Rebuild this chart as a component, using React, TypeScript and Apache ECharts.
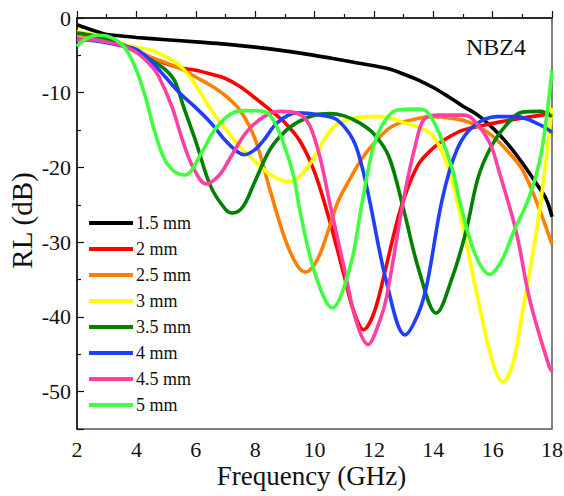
import React, { useEffect, useRef } from "react";
import * as echarts from "echarts";

const seriesNames = ["1.5 mm", "2 mm", "2.5 mm", "3 mm", "3.5 mm", "4 mm", "4.5 mm", "5 mm"];
const seriesColors = ["#000000", "#ff0000", "#ff8000", "#ffff00", "#008000", "#1f3fff", "#ff40a0", "#40ff40"];

const xTickLabels = [2, 4, 6, 8, 10, 12, 14, 16, 18];
const yTickLabels = [0, -10, -20, -30, -40, -50];

const rl15 = [[2,-0.9],[2.5,-1.6],[3,-2.2],[3.5,-2.4],[4,-2.6],[5,-2.9],[6,-3.2],[7,-3.5],[8,-3.9],[9,-4.4],[10,-5.0],[11,-5.7],[12,-6.4],[12.5,-6.8],[13,-7.5],[13.5,-8.3],[14,-9.3],[14.5,-10.5],[15,-11.8],[15.5,-13.0],[16,-14.7],[16.5,-16.8],[17,-19.4],[17.5,-22.3],[17.8,-24.2],[18,-26.6]];
const rl20 = [[2,-2.3],[2.5,-2.4],[3,-3.0],[3.5,-3.6],[4,-4.4],[4.5,-5.3],[5,-6.1],[5.5,-6.7],[6,-7.0],[6.5,-7.5],[7,-8.1],[7.5,-9.2],[8,-10.7],[8.5,-12.3],[9,-14.0],[9.5,-16.4],[10,-20.6],[10.5,-27.0],[11,-34.5],[11.3,-39.0],[11.65,-41.7],[12,-39.5],[12.4,-33.5],[12.7,-28.5],[13,-24.3],[13.5,-19.6],[14,-17.4],[14.5,-16.0],[15,-15.0],[16,-14.1],[17,-13.4],[18,-12.8]];
const rl25 = [[2,-2.4],[2.5,-2.4],[3,-3.0],[3.5,-3.6],[4,-4.4],[4.5,-5.3],[5,-6.0],[5.5,-6.8],[6,-7.9],[6.5,-9.0],[7,-10.4],[7.5,-12.4],[8,-16.2],[8.5,-23.0],[9,-29.5],[9.4,-33.0],[9.7,-34.0],[10.1,-32.3],[10.5,-28.0],[10.8,-24.5],[11.2,-21.5],[11.6,-18.8],[12,-16.8],[12.5,-14.8],[13,-13.9],[14,-13.2],[15,-13.7],[15.5,-14.5],[16,-15.8],[16.5,-17.8],[17,-20.3],[17.5,-24.8],[18,-30.3]];
const rl30 = [[2,-1.8],[2.5,-2.2],[3,-2.8],[3.5,-3.4],[4,-3.9],[4.5,-4.3],[5,-5.2],[5.5,-6.5],[6,-9.0],[6.5,-12.2],[7,-14.8],[7.5,-17.3],[8,-19.2],[8.5,-20.9],[9.1,-21.9],[9.5,-21.2],[10,-18.6],[10.4,-15.8],[10.8,-14.1],[11.5,-13.3],[12,-13.2],[12.5,-13.3],[13,-14.0],[13.5,-14.6],[14,-15.8],[14.5,-20.0],[15,-28.0],[15.5,-37.5],[16,-46.0],[16.35,-48.7],[16.7,-46.0],[17,-39.5],[17.5,-28.0],[17.8,-19.0],[18,-12.0]];
const rl35 = [[2,-2.0],[2.5,-2.3],[3,-2.8],[3.5,-3.5],[4,-4.5],[4.5,-5.6],[5,-7.0],[5.3,-8.5],[5.6,-12.0],[6,-16.5],[6.5,-22.5],[7,-25.6],[7.25,-26.1],[7.6,-25.2],[8,-21.8],[8.5,-17.6],[9,-15.2],[9.5,-13.8],[10,-13.0],[10.5,-12.8],[11,-13.1],[11.5,-14.0],[12,-15.5],[12.5,-18.5],[13,-25.6],[13.5,-33.5],[14.1,-39.5],[14.65,-34.6],[15.1,-28.6],[15.5,-21.5],[15.9,-17.6],[16.4,-14.6],[17,-12.6],[17.6,-12.5],[18,-13.2]];
const rl40 = [[2,-2.9],[2.5,-3.0],[3,-3.3],[3.5,-3.7],[4,-4.2],[4.5,-5.8],[5,-8.0],[5.5,-10.2],[6,-12.0],[6.5,-14.0],[7,-16.4],[7.4,-17.9],[7.65,-18.3],[8,-17.6],[8.3,-16.3],[8.75,-14.0],[9.4,-12.7],[10.2,-13.0],[10.75,-13.6],[11.3,-16.3],[11.6,-19.9],[11.85,-24.3],[12.43,-35.4],[13.05,-42.4],[13.5,-39.5],[13.8,-35.4],[14.3,-24.3],[14.8,-17.6],[15.35,-14.5],[16.15,-13.2],[16.8,-13.2],[17.6,-14.3],[18,-15.3]];
const rl45 = [[2,-3.0],[2.5,-2.9],[3,-3.2],[3.5,-3.7],[4,-4.6],[4.5,-6.4],[4.75,-7.8],[5.2,-11.9],[5.55,-16.3],[5.9,-19.9],[6.35,-22.2],[6.8,-21.0],[7.15,-18.8],[7.7,-15.3],[8.3,-13.2],[8.85,-12.5],[9.5,-12.9],[9.85,-14.5],[10.2,-18.9],[10.5,-24.5],[11,-33.5],[11.4,-40.5],[11.8,-43.7],[12.2,-40.5],[12.43,-37.3],[13,-24.3],[13.4,-17.0],[13.7,-13.5],[14.2,-13.0],[15,-13.0],[15.35,-13.6],[15.9,-16.7],[16.2,-20.3],[16.8,-28.7],[17.25,-37.7],[17.9,-46.6],[18,-47.3]];
const rl50 = [[2,-3.8],[2.3,-2.8],[2.7,-2.3],[3,-2.4],[3.3,-2.9],[3.6,-3.9],[3.95,-6.5],[4.3,-10.5],[4.6,-15.0],[4.95,-18.9],[5.3,-20.6],[5.65,-21.0],[6.2,-18.0],[6.65,-14.9],[7.2,-12.8],[7.7,-12.4],[8.3,-12.5],[8.6,-13.6],[8.95,-16.7],[9.3,-21.2],[9.5,-25.6],[10,-34.0],[10.6,-38.8],[11.2,-33.3],[11.6,-24.8],[12,-17.0],[12.4,-13.6],[12.8,-12.3],[13.5,-12.2],[13.8,-12.6],[14.2,-15.4],[14.65,-20.3],[14.9,-24.7],[15.4,-31.5],[15.9,-34.3],[16.3,-32.5],[16.7,-28.7],[17.2,-24.3],[17.5,-20.5],[17.7,-16.7],[18,-7.0]];

const seriesData = [rl15, rl20, rl25, rl30, rl35, rl40, rl45, rl50];

const FONT = "Liberation Serif";
const chartTitle = "NBZ4";
const xTitle = "Frequency (GHz)";
const yTitle = "RL (dB)";

const X_MIN = 2, X_MAX = 18, Y_MIN = -55, Y_MAX = 0;

export default function App() {
  const ref = useRef<HTMLDivElement>(null);
  useEffect(() => {
    document.body.style.margin = "0";
    if (!ref.current) return;
    const chart = echarts.init(ref.current, null, { renderer: "svg" });
    const mainTitle = {
      text: chartTitle,
      left: 461,
      top: 30,
      textStyle: { fontFamily: FONT, fontSize: 24, fontWeight: "normal", color: "#111" },
    };
    chart.setOption({
      animation: false,
      backgroundColor: "#ffffff",
      textStyle: { fontFamily: FONT },
      title: [mainTitle],
      legend: {
        orient: "vertical",
        left: 84,
        top: 209,
        icon: "rect",
        itemWidth: 44,
        itemHeight: 4,
        itemGap: 8,
        data: seriesNames,
        textStyle: { fontFamily: FONT, fontSize: 18, color: "#111", lineHeight: 18, padding: [0, 0, 0, -2] },
      },
      grid: {
        left: 77,
        top: 18,
        right: 12,
        bottom: 67,
        show: true,
        borderColor: "#555",
        borderWidth: 1.5,
        backgroundColor: "transparent",
      },
      xAxis: {
        type: "value",
        min: X_MIN,
        max: X_MAX,
        interval: 2,
        axisLine: { show: true, lineStyle: { color: "#111", width: 1.5 } },
        axisTick: { show: true, inside: true, length: 7, lineStyle: { color: "#111", width: 1.2 } },
        minorTick: { show: true, splitNumber: 2, length: 4, lineStyle: { color: "#111", width: 1.2 } },
        axisLabel: { show: false },
        splitLine: { show: false },
      },
      yAxis: {
        type: "value",
        min: Y_MIN,
        max: Y_MAX,
        splitNumber: 5,
        axisLine: { show: true, lineStyle: { color: "#111", width: 1.5 } },
        axisTick: { show: true, inside: true, length: 7, lineStyle: { color: "#111", width: 1.2 } },
        minorTick: { show: true, splitNumber: 2, length: 4, lineStyle: { color: "#111", width: 1.2 } },
        axisLabel: { show: false },
        splitLine: { show: false },
      },
      series: seriesNames.map((name, i) => ({
        name,
        type: "line",
        data: seriesData[i],
        smooth: 0.35,
        showSymbol: false,
        symbol: "none",
        color: seriesColors[i],
        lineStyle: { width: 3.6, color: seriesColors[i] },
        z: 2,
      })),
    });

    const xPix = (v: number) => chart.convertToPixel({ xAxisIndex: 0 }, v) as number;
    const yPix = (v: number) => chart.convertToPixel({ yAxisIndex: 0 }, v) as number;
    const axisY = yPix(Y_MIN);
    const axisX = xPix(X_MIN);
    const label = (text: string, x: number, y: number, size: number, align: string, valign: string) => ({
      text,
      left: x,
      top: y,
      padding: 0,
      textAlign: align,
      textVerticalAlign: valign,
      textStyle: { fontFamily: FONT, fontSize: size, fontWeight: "normal", color: "#111" },
    });
    const titles: any[] = [mainTitle];
    xTickLabels.forEach((v) => titles.push(label(String(v), xPix(v), axisY + 9, 22, "center", "top")));
    yTickLabels.forEach((v) => titles.push(label(String(v), axisX - 6, yPix(v), 22, "right", "middle")));
    titles.push(label(xTitle, (xPix(X_MIN) + xPix(X_MAX)) / 2 - 3, axisY + 47, 27, "center", "middle"));

    chart.setOption({
      title: titles,
      graphic: [
        {
          type: "text",
          x: 22,
          y: (yPix(Y_MIN) + yPix(Y_MAX)) / 2 - 3,
          rotation: Math.PI / 2,
          style: {
            text: yTitle,
            fontFamily: FONT,
            fontSize: 29,
            fill: "#111",
            align: "center",
            verticalAlign: "middle",
          },
        },
      ],
    });

    return () => chart.dispose();
  }, []);
  return <div ref={ref} style={{ width: 564, height: 496 }} />;
}
